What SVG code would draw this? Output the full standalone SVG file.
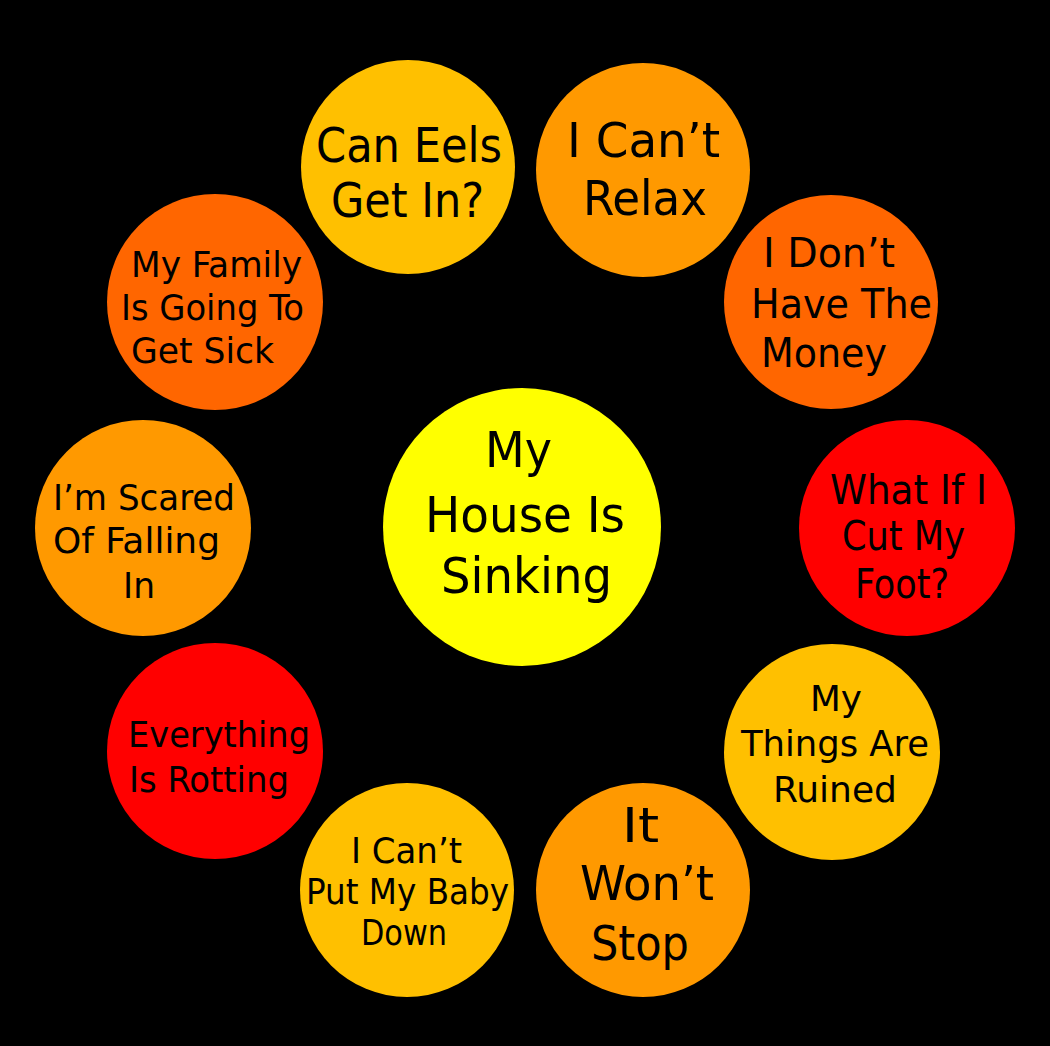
<svg xmlns="http://www.w3.org/2000/svg" width="1050" height="1046" viewBox="0 0 1050 1046">
<style>
.bg{fill:#000000}
.yel{fill:#FFFF00}
.gold{fill:#FFC000}
.org{fill:#FF9900}
.dorg{fill:#FF6600}
.red{fill:#FF0000}
text{font-family:"DejaVu Sans Condensed","DejaVu Sans","Liberation Sans",sans-serif;fill:#000000}
.xl{font-size:50px}
.l{font-size:48px}
.m{font-size:41px}
.s{font-size:36px}
</style>
<rect class="bg" x="0" y="0" width="1050" height="1046"/>
<g id="connectors"></g>
<g id="center">
<circle class="yel" cx="522" cy="527" r="139"/>
<text class="xl" x="485" y="467" textLength="67" lengthAdjust="spacingAndGlyphs">My</text>
<text class="xl" x="425" y="532" textLength="200" lengthAdjust="spacingAndGlyphs">House Is</text>
<text class="xl" x="441" y="593" textLength="171" lengthAdjust="spacingAndGlyphs">Sinking</text>
</g>
<g id="can-eels">
<circle class="gold" cx="408" cy="167" r="107"/>
<text class="l" x="316" y="162" textLength="186" lengthAdjust="spacingAndGlyphs">Can Eels</text>
<text class="l" x="331" y="217" textLength="153" lengthAdjust="spacingAndGlyphs">Get In?</text>
</g>
<g id="relax">
<circle class="org" cx="643" cy="170" r="107"/>
<text class="l" x="567" y="157" textLength="153" lengthAdjust="spacingAndGlyphs">I Can’t</text>
<text class="l" x="583" y="215" textLength="124" lengthAdjust="spacingAndGlyphs">Relax</text>
</g>
<g id="money">
<circle class="dorg" cx="831" cy="302" r="107"/>
<text class="m" x="763" y="267" textLength="132" lengthAdjust="spacingAndGlyphs">I Don’t</text>
<text class="m" x="751" y="318" textLength="181" lengthAdjust="spacingAndGlyphs">Have The</text>
<text class="m" x="761" y="367" textLength="126" lengthAdjust="spacingAndGlyphs">Money</text>
</g>
<g id="foot">
<circle class="red" cx="907" cy="528" r="108"/>
<text class="m" x="830" y="504" textLength="157" lengthAdjust="spacingAndGlyphs">What If I</text>
<text class="m" x="842" y="550" textLength="123" lengthAdjust="spacingAndGlyphs">Cut My</text>
<text class="m" x="855" y="598" textLength="94" lengthAdjust="spacingAndGlyphs">Foot?</text>
</g>
<g id="ruined">
<circle class="gold" cx="832" cy="752" r="108"/>
<text class="s" x="810" y="711" textLength="52" lengthAdjust="spacingAndGlyphs">My</text>
<text class="s" x="741" y="756" textLength="188" lengthAdjust="spacingAndGlyphs">Things Are</text>
<text class="s" x="773" y="802" textLength="124" lengthAdjust="spacingAndGlyphs">Ruined</text>
</g>
<g id="wont-stop">
<circle class="org" cx="643" cy="890" r="107"/>
<text class="l" x="622" y="842" textLength="37" lengthAdjust="spacingAndGlyphs">It</text>
<text class="l" x="580" y="900" textLength="134" lengthAdjust="spacingAndGlyphs">Won’t</text>
<text class="l" x="591" y="960" textLength="98" lengthAdjust="spacingAndGlyphs">Stop</text>
</g>
<g id="baby">
<circle class="gold" cx="407" cy="890" r="107"/>
<text class="s" x="351" y="863" textLength="111" lengthAdjust="spacingAndGlyphs">I Can’t</text>
<text class="s" x="306" y="904" textLength="203" lengthAdjust="spacingAndGlyphs">Put My Baby</text>
<text class="s" x="361" y="945" textLength="86" lengthAdjust="spacingAndGlyphs">Down</text>
</g>
<g id="rotting">
<circle class="red" cx="215" cy="751" r="108"/>
<text class="s" x="128" y="747" textLength="182" lengthAdjust="spacingAndGlyphs">Everything</text>
<text class="s" x="129" y="792" textLength="160" lengthAdjust="spacingAndGlyphs">Is Rotting</text>
</g>
<g id="scared">
<circle class="org" cx="143" cy="528" r="108"/>
<text class="s" x="53" y="510" textLength="182" lengthAdjust="spacingAndGlyphs">I’m Scared</text>
<text class="s" x="53" y="553" textLength="167" lengthAdjust="spacingAndGlyphs">Of Falling</text>
<text class="s" x="123" y="598" textLength="32" lengthAdjust="spacingAndGlyphs">In</text>
</g>
<g id="family">
<circle class="dorg" cx="215" cy="302" r="108"/>
<text class="s" x="131" y="277" textLength="171" lengthAdjust="spacingAndGlyphs">My Family</text>
<text class="s" x="121" y="320" textLength="183" lengthAdjust="spacingAndGlyphs">Is Going To</text>
<text class="s" x="131" y="363" textLength="143" lengthAdjust="spacingAndGlyphs">Get Sick</text>
</g>
</svg>
